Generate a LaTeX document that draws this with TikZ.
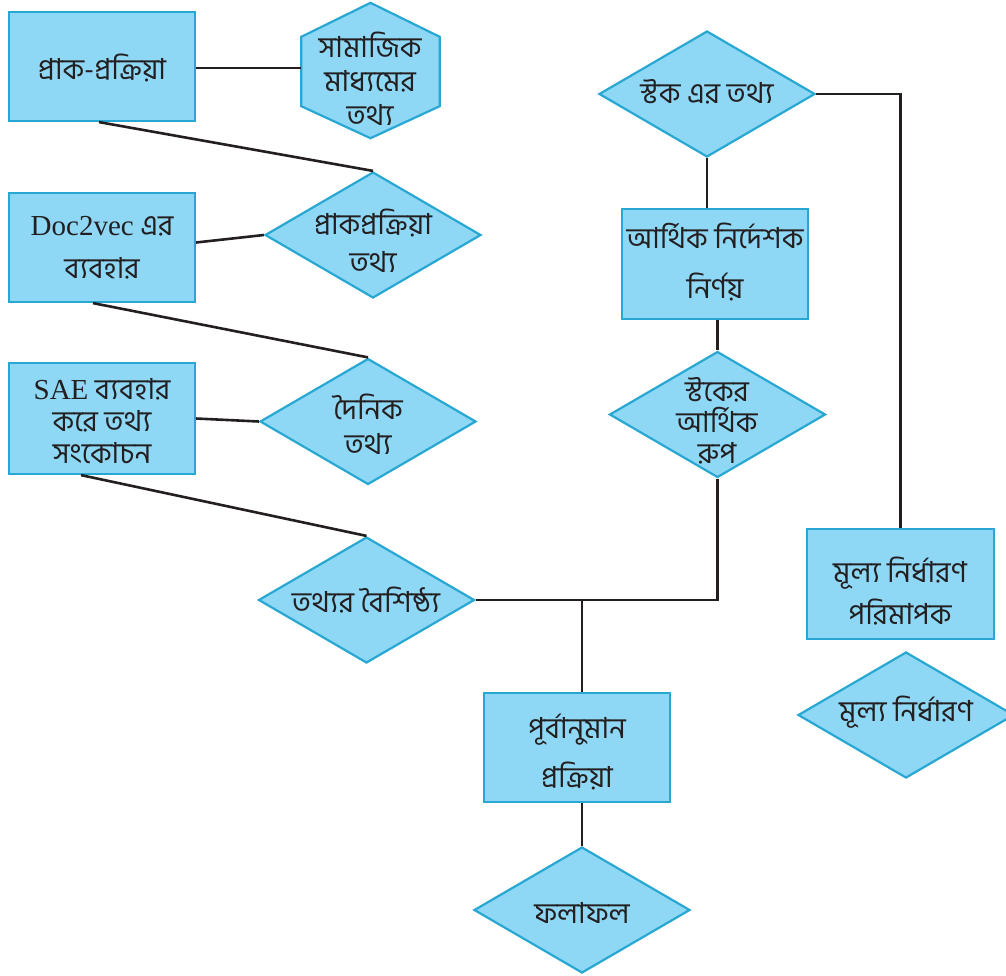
\documentclass[tikz,border=0pt]{standalone}
\usepackage{fontspec}
\setmainfont{Liberation Serif}
\newfontfamily\bn[Script=Bengali]{Hind Siliguri}
\usetikzlibrary{shapes.geometric}
\definecolor{fillc}{RGB}{142,216,246}
\definecolor{bordc}{RGB}{41,167,211}
\definecolor{linec}{RGB}{35,31,32}
\begin{document}
\begin{tikzpicture}[x=1pt,y=-1pt,
 shp/.style={draw=bordc, fill=fillc, line width=2.2pt, inner sep=0pt},
 boxs/.style={shp, rectangle},
 dias/.style={shp, diamond, minimum width=216, minimum height=126},
 txt/.style={align=center, inner sep=0pt, text=linec, font=\bn\fontsize{29}{#1}\selectfont},
 txt/.default=40,
 conn/.style={draw=linec, line width=2.6pt}]
\useasboundingbox (0,0) rectangle (1006,975);

% left column
\node[boxs, minimum width=186, minimum height=109] (b1) at (102,66.5) {};
\node[txt] (t1) at (102,68) {প্রাক-প্রক্রিয়া};
\node[minimum width=138, minimum height=135, inner sep=0pt] (hx) at (370.5,70.5) {};
\filldraw[shp] (hx.north) -- ([yshift=-34]hx.north east) -- ([yshift=32]hx.south east) -- (hx.south) -- ([yshift=32]hx.south west) -- ([yshift=-34]hx.north west) -- cycle;
\node[txt=34] (thx) at (370,79) {সামাজিক\\মাধ্যমের\\তথ্য};

\node[boxs, minimum width=186, minimum height=109] (b2) at (102,247.5) {};
\node[txt=43] (t2) at (102,248) {{\rmfamily Doc2vec} এর\\ব্যবহার};
\node[dias] (d1) at (373,235) {};
\node[txt=38] (td1) at (373,241) {প্রাকপ্রক্রিয়া\\তথ্য};

\node[boxs, minimum width=186, minimum height=111] (b3) at (102,418.5) {};
\node[txt=32] (t3) at (102,421) {{\rmfamily SAE} ব্যবহার\\করে তথ্য\\সংকোচন};
\node[dias] (d2) at (368,421.5) {};
\node[txt=35] (td2) at (368,424) {দৈনিক\\তথ্য};

\node[dias] (d3) at (366.5,600) {};
\node[txt] (td3) at (366,600) {তথ্যর বৈশিষ্ঠ্য};

% right column
\node[dias] (d4) at (707,94) {};
\node[txt] (td4) at (707,92) {স্টক এর তথ্য};
\node[boxs, minimum width=186, minimum height=110] (b4) at (715,264) {};
\node[txt=50] (t4) at (715,262) {আর্থিক নির্দেশক\\নির্ণয়};
\node[dias] (d5) at (717.5,414.5) {};
\node[txt=31] (td5) at (717,421) {স্টকের\\আর্থিক\\রুপ};

\node[boxs, minimum width=187, minimum height=110] (b6) at (900.5,584) {};
\node[txt=42] (t6) at (900,591) {মূল্য নির্ধারণ\\পরিমাপক};
\node[dias] (d6) at (906,715) {};
\node[txt] (td6) at (906,712) {মূল্য নির্ধারণ};

\node[boxs, minimum width=186, minimum height=109] (b5) at (577,747.5) {};
\node[txt=49] (t5) at (577,752) {পূর্বানুমান\\প্রক্রিয়া};
\node[dias] (d7) at (582,910) {};
\node[txt] (td7) at (582,913) {ফলাফল};

% connectors
\draw[conn] ([yshift=-1.5]b1.east) -- ([yshift=-1.5]b1.east -| hx.west);
\draw[conn] ([xshift=-3]b1.south) -- (d1.north);
\draw[conn] ([yshift=5]b2.east) -- (d1.west);
\draw[conn] ([xshift=-9]b2.south) -- (d2.north);
\draw[conn] (b3.east) -- (d2.west);
\draw[conn] ([xshift=-21]b3.south) -- (d3.north);
\draw[conn] (d3.east) -| (d5.south);
\coordinate (jn) at (582,600);
\draw[conn] (jn) -- (jn |- b5.north);
\draw[conn] (b5.south -| d7.north) -- (d7.north);
\draw[conn] (d4.south) -- (d4.south |- b4.north);
\draw[conn] (b4.south -| d5.north) -- (d5.north);
\draw[conn] (d4.east) -| (b6.north);
\end{tikzpicture}
\end{document}
